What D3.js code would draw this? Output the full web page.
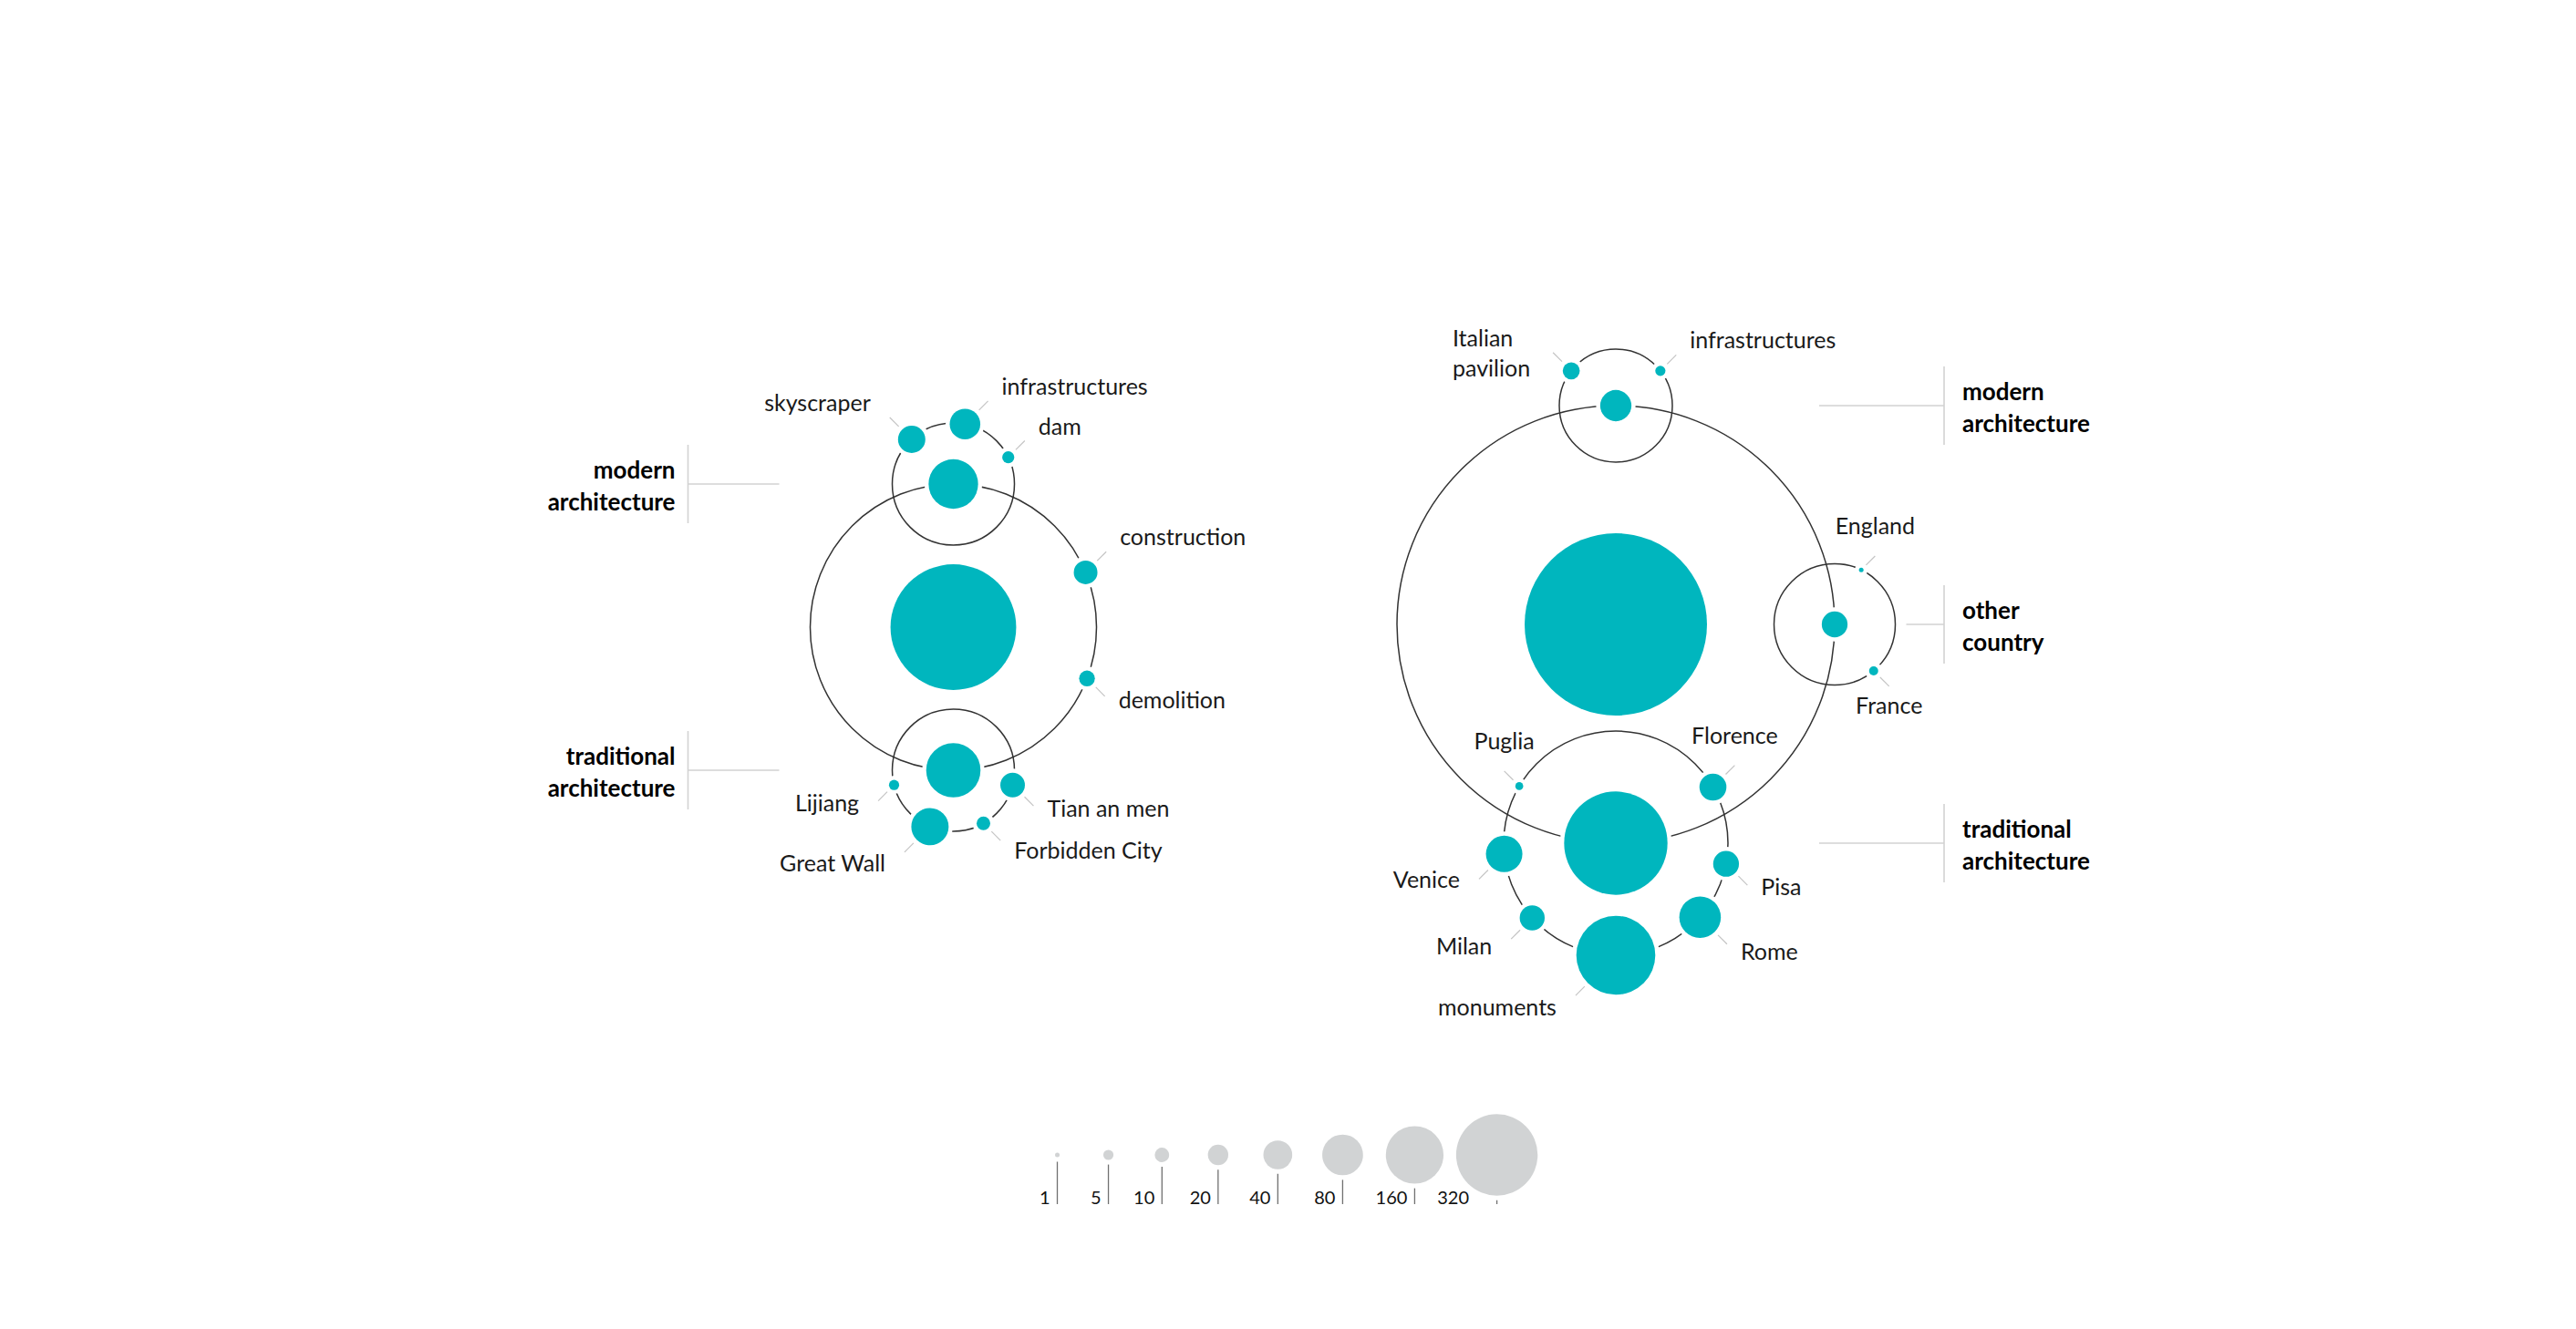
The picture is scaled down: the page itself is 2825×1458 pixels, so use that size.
<!DOCTYPE html>
<html>
<meta charset="utf-8">
<style>
body { margin: 0; background: #fff; }
svg { display: block; }
.orbit { fill: none; stroke: #333; stroke-width: 1.5px; }
.halo { fill: #fff; }
.node { fill: #00b6be; }
.leader { stroke: #c4c4c4; stroke-width: 1.2px; }
.label { font-family: Lato, 'Open Sans', sans-serif; font-weight: 400; font-size: 25px; fill: #1a1a1a; }
.group-label { font-family: Lato, 'Open Sans', sans-serif; font-weight: 700; font-size: 26px; fill: #000; }
.ann { stroke: #d2d2d2; stroke-width: 1.6px; fill: none; }
.legend circle { fill: #d1d3d4; }
.legend line { stroke: #707070; stroke-width: 1.3px; }
.legend text { font-family: Lato, 'Open Sans', sans-serif; font-size: 20px; fill: #111; }
</style>
<body>
<svg width="2825" height="1458"></svg>
<script src="https://d3js.org/d3.v7.min.js"></script>
<script>

// ---- data ----
var chinaRoot = 760;
var chinaGroups = ["modern architecture", "construction", "demolition", "traditional architecture"];
var chinaGroupValues = [118, 27, 12, 142];
var chinaModern = ["skyscraper", "infrastructures", "dam"];
var chinaModernValues = [36, 45, 7];
var chinaTraditional = ["Tian an men", "Forbidden City", "Great Wall", "Lijiang"];
var chinaTraditionalValues = [29, 9, 67, 5];

var italyRoot = 1600;
var italyGroups = ["modern architecture", "other country", "traditional architecture"];
var italyGroupValues = [47, 32, 514];
var italyModern = ["Italian pavilion", "infrastructures"];
var italyModernValues = [14, 5];
var italyOther = ["England", "France"];
var italyOtherValues = [1, 4];
var italyTraditional = ["Florence", "Pisa", "Rome", "monuments", "Milan", "Venice", "Puglia"];
var italyTraditionalValues = [35, 32, 83, 300, 30, 64, 3];

var legendValues = [1, 5, 10, 20, 40, 80, 160, 320];

// ---- layout (angles in degrees, counter-clockwise from 3 o'clock) ----
var centeredLabels = ["England", "France", "Florence", "Puglia"];
var twoLineLabels = ["Italian pavilion"];

var charts = [
  { cx: 1045.5, cy: 688, orbit: 157, rootValue: chinaRoot, side: "left", barDx: -291, innerDx: -191,
    groups: chinaGroups, values: chinaGroupValues, angles: [90, 22.5, -21, -90],
    kids: {
      "modern architecture": { names: chinaModern, values: chinaModernValues, angles: [133, 79, 26], orbit: 67 },
      "traditional architecture": { names: chinaTraditional, values: chinaTraditionalValues, angles: [-14, -60.5, -112.5, -166], orbit: 67 }
    } },
  { cx: 1772, cy: 685, orbit: 240, rootValue: italyRoot, side: "right", barDx: 360, innerDx: 223,
    groups: italyGroups, values: italyGroupValues, angles: [90, 0, -90],
    kids: {
      "modern architecture": { names: italyModern, values: italyModernValues, angles: [142, 38], orbit: 62 },
      "other country": { names: italyOther, values: italyOtherValues, angles: [64, -50], orbit: 66.5 },
      "traditional architecture": { names: italyTraditional, values: italyTraditionalValues,
        angles: [30, -10.6, -41.3, -90, -138.2, -174.5, 149.4], orbit: 123 }
    } }
];

var svg = d3.select("svg");
var size = d3.scaleSqrt().domain([0, 320]).range([0, 2.5 * Math.sqrt(320)]);
var rad = Math.PI / 180;

function place(cx, cy, orbit, deg) {
  return [cx + orbit * Math.cos(deg * rad), cy - orbit * Math.sin(deg * rad)];
}

charts.forEach(function(c) {
  var root = { name: "root", value: c.rootValue, x: c.cx, y: c.cy, r: size(c.rootValue) };
  var groups = c.groups.map(function(name, i) {
    var p = place(c.cx, c.cy, c.orbit, c.angles[i]);
    var n = { name: name, value: c.values[i], angle: c.angles[i], x: p[0], y: p[1], r: size(c.values[i]) };
    var k = c.kids[name];
    if (k) {
      n.orbit = k.orbit;
      n.kids = k.names.map(function(kn, j) {
        var q = place(n.x, n.y, k.orbit, k.angles[j]);
        return { name: kn, value: k.values[j], angle: k.angles[j], x: q[0], y: q[1], r: size(k.values[j]) };
      });
    }
    return n;
  });

  var kids = [];
  groups.forEach(function(gr) { if (gr.kids) kids = kids.concat(gr.kids); });
  var nodes = [root].concat(groups, kids);
  var leaves = groups.filter(function(d) { return !d.kids; }).concat(kids);
  var parents = groups.filter(function(d) { return d.kids; });

  var g = svg.append("g");

  // orbits
  g.append("circle").attr("class", "orbit")
    .attr("cx", c.cx).attr("cy", c.cy).attr("r", c.orbit);
  g.selectAll(".sub-orbit").data(parents).enter().append("circle")
    .attr("class", "orbit sub-orbit")
    .attr("cx", function(d) { return d.x; })
    .attr("cy", function(d) { return d.y; })
    .attr("r", function(d) { return d.orbit; });

  // nodes with a white halo that breaks the orbit line
  g.selectAll(".halo").data(nodes).enter().append("circle")
    .attr("class", "halo")
    .attr("cx", function(d) { return d.x; })
    .attr("cy", function(d) { return d.y; })
    .attr("r", function(d) { return d.r + 4.5; });
  g.selectAll(".node").data(nodes).enter().append("circle")
    .attr("class", "node")
    .attr("cx", function(d) { return d.x; })
    .attr("cy", function(d) { return d.y; })
    .attr("r", function(d) { return d.r; });

  // leaders + labels
  leaves.forEach(function(d) {
    var co = Math.cos(d.angle * rad), si = Math.sin(d.angle * rad);
    var sx = co > 1e-6 ? 1 : -1, sy = si > 0 ? -1 : 1;
    var h = Math.SQRT1_2;
    var r0 = d.r + 5, r1 = d.r + 19;
    g.append("line").attr("class", "leader")
      .attr("x1", d.x + sx * h * r0).attr("y1", d.y + sy * h * r0)
      .attr("x2", d.x + sx * h * r1).attr("y2", d.y + sy * h * r1);
    var ex = d.x + sx * h * r1, ey = d.y + sy * h * r1;
    var t = g.append("text").attr("class", "label");
    if (centeredLabels.indexOf(d.name) >= 0) {
      t.attr("text-anchor", "middle").attr("x", ex).attr("y", ey + (sy < 0 ? -24 : 30));
    } else {
      var dy = sy < 0 ? -7 : 8 + 14 * Math.abs(si);
      t.attr("text-anchor", sx > 0 ? "start" : "end")
        .attr("x", ex + (sx > 0 ? 15 : -21))
        .attr("y", ey + dy);
    }
    if (twoLineLabels.indexOf(d.name) >= 0) {
      // stacked, left-aligned block sitting on the anchor side
      var parts = d.name.split(" ");
      t.attr("text-anchor", "start");
      parts.forEach(function(l, i) {
        t.append("tspan").attr("dy", i ? 33 : 0).text(l);
      });
      var w = d3.max(t.selectAll("tspan").nodes(), function(n) { return n.getComputedTextLength(); });
      var x0 = sx > 0 ? ex + 15 : ex - 25 - w;
      t.selectAll("tspan").attr("x", x0);
    } else {
      t.text(d.name);
    }
  });

  // group annotations
  parents.forEach(function(d) {
    var bar = c.cx + c.barDx;
    var inner = c.side === "left"
      ? Math.min(c.cx + c.innerDx, d.x - d.orbit - 12)
      : Math.max(c.cx + c.innerDx, d.x + d.orbit + 12);
    g.append("line").attr("class", "ann")
      .attr("x1", inner).attr("x2", bar).attr("y1", d.y).attr("y2", d.y);
    g.append("line").attr("class", "ann")
      .attr("x1", bar).attr("x2", bar).attr("y1", d.y - 43).attr("y2", d.y + 43);
    var t = g.append("text").attr("class", "group-label")
      .attr("text-anchor", c.side === "left" ? "end" : "start")
      .attr("x", c.side === "left" ? bar - 14 : bar + 20)
      .attr("y", d.y - 6);
    d.name.split(" ").forEach(function(l, i) {
      t.append("tspan").attr("x", t.attr("x")).attr("dy", i ? 35 : 0).text(l);
    });
  });
});

// ---- size legend ----
var legendY = 1267, legendBase = 1321;
var lx = [];
legendValues.forEach(function(v, i) {
  if (i === 0) lx.push(1159.5);
  else lx.push(lx[i - 1] + 52 + 0.5 * (size(legendValues[i - 1]) + size(v)));
});
var legend = svg.append("g").attr("class", "legend");
var item = legend.selectAll("g").data(legendValues).enter().append("g");
item.append("circle")
  .attr("cx", function(d, i) { return lx[i]; })
  .attr("cy", legendY)
  .attr("r", function(d) { return size(d); });
item.append("line")
  .attr("x1", function(d, i) { return lx[i]; })
  .attr("x2", function(d, i) { return lx[i]; })
  .attr("y1", function(d) { return legendY + size(d) + 5; })
  .attr("y2", legendBase);
item.append("text")
  .attr("text-anchor", "end")
  .attr("x", function(d, i) {
    var r = size(d);
    return lx[i] - Math.max(8, Math.sqrt(Math.max(0, r * r - 36.7 * 36.7)) + 5);
  })
  .attr("y", legendBase)
  .text(function(d) { return d; });

</script>
</body>
</html>
